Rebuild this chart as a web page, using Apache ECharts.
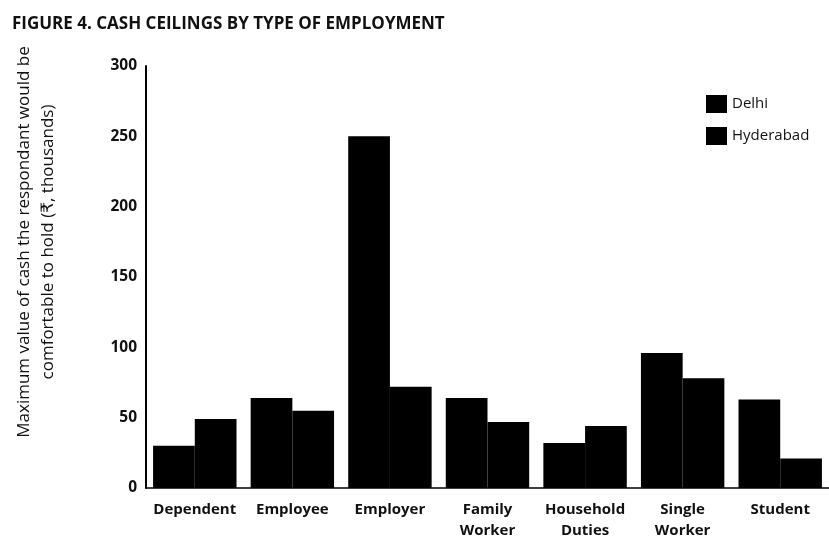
<!DOCTYPE html>
<html>
<head>
<meta charset="utf-8">
<script src="https://cdn.jsdelivr.net/npm/echarts@6/dist/echarts.min.js"></script>
<style>
  html, body { margin: 0; padding: 0; background: #fff; }
  #chart { width: 829px; height: 541px; }
</style>
</head>
<body>
<div id="chart"></div>
<script>
const categories = ["Dependent", "Employee", "Employer", "Family\nWorker", "Household\nDuties", "Single\nWorker", "Student"];
const delhi = [30, 64, 250, 64, 32, 96, 63];
const hyderabad = [49, 55, 72, 47, 44, 78, 21];
const yTicks = { min: 0, max: 300, interval: 50 };

const font = "'Open Sans', 'DejaVu Sans', sans-serif";
const chart = echarts.init(document.getElementById("chart"));

const option = {
  backgroundColor: "#fff",
  animation: false,
  title: {
    text: "FIGURE 4. CASH CEILINGS BY TYPE OF EMPLOYMENT",
    left: 7,
    top: 11,
    textStyle: { fontFamily: font, fontWeight: "bold", fontSize: 17, color: "#111" }
  },
  legend: {
    orient: "vertical",
    left: 701,
    top: 90,
    icon: "rect",
    itemWidth: 21,
    itemHeight: 18,
    itemGap: 14,
    textStyle: { fontFamily: font, fontSize: 15, color: "#111" },
    data: ["Delhi", "Hyderabad"]
  },
  grid: { left: 146, right: -5, top: 66, bottom: 50 },
  xAxis: {
    type: "category",
    data: categories,
    axisLine: { show: true, lineStyle: { color: "#000", width: 1.5 } },
    axisTick: { show: false },
    axisLabel: {
      interval: 0,
      hideOverlap: false,
      fontFamily: font,
      fontWeight: "bold",
      fontSize: 15,
      color: "#111",
      margin: 11,
      lineHeight: 21
    }
  },
  yAxis: {
    type: "value",
    min: yTicks.min,
    max: yTicks.max,
    interval: yTicks.interval,
    axisLine: { show: true, lineStyle: { color: "#000", width: 2 } },
    axisTick: { show: false },
    splitLine: { show: false },
    axisLabel: {
      fontFamily: font,
      fontWeight: "bold",
      fontSize: 15.5,
      color: "#111",
      margin: 9
    }
  },
  graphic: [
    {
      type: "text",
      x: 36,
      y: 242,
      rotation: Math.PI / 2,
      style: {
        text: "Maximum value of cash the respondant would be\ncomfortable to hold (₹, thousands)",
        fontFamily: font,
        fontSize: 17,
        lineHeight: 24,
        fill: "#111",
        align: "center",
        verticalAlign: "middle"
      }
    }
  ],
  series: [
    {
      name: "Delhi",
      type: "bar",
      data: delhi,
      barGap: "0%",
      barCategoryGap: "14.5%",
      itemStyle: { color: "#000" }
    },
    {
      name: "Hyderabad",
      type: "bar",
      data: hyderabad,
      itemStyle: { color: "#000" }
    }
  ]
};

chart.setOption(option);
</script>
</body>
</html>
